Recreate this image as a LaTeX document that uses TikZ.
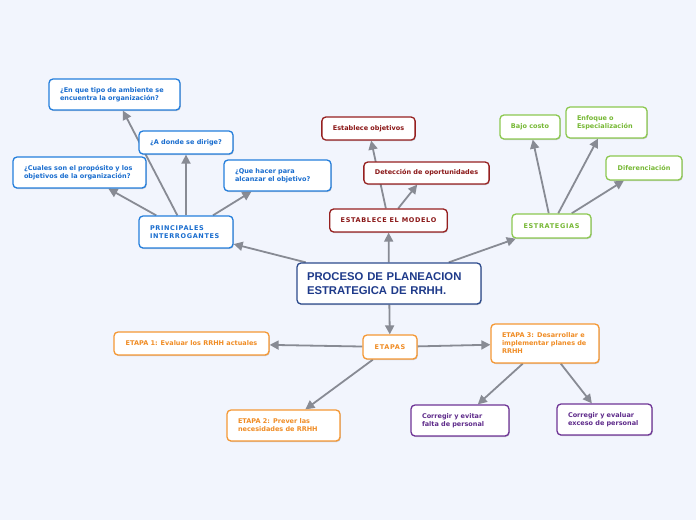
\documentclass[tikz,border=0pt]{standalone}
\usepackage{fontspec}
\setsansfont{DejaVu Sans}
\newfontfamily\titulofont{Liberation Sans}
\usepackage{tikz}
\usetikzlibrary{arrows.meta,shadows}
\definecolor{fondo}{RGB}{242,245,253}
\definecolor{gris}{RGB}{136,139,148}
\definecolor{azulc}{RGB}{36,126,220}
\definecolor{azult}{RGB}{24,108,206}
\definecolor{marino}{RGB}{44,74,140}
\definecolor{marinot}{RGB}{30,58,138}
\definecolor{rojo}{RGB}{150,32,32}
\definecolor{rojot}{RGB}{138,22,22}
\definecolor{verde}{RGB}{140,200,80}
\definecolor{verdet}{RGB}{118,184,52}
\definecolor{naranja}{RGB}{245,152,52}
\definecolor{naranjat}{RGB}{240,140,36}
\definecolor{morado}{RGB}{110,52,150}
\definecolor{moradot}{RGB}{94,42,138}
\pgfdeclarelayer{fondocapa}
\pgfdeclarelayer{lineas}
\pgfsetlayers{fondocapa,lineas,main}

\begin{document}
\begin{tikzpicture}[x=1pt,y=-1pt,
    caja/.style={draw,fill=white,rounded corners=4pt,line width=1.3pt,inner xsep=11pt,inner ysep=0pt,
                 font=\sffamily\bfseries\fontsize{6.5}{8}\selectfont,
                 drop shadow={shadow xshift=0.8pt,shadow yshift=-1pt,fill=black,opacity=0.18}},
    mayus/.style={font=\sffamily\bfseries\fontsize{6.5}{8}\selectfont\addfontfeatures{LetterSpace=10}},
    multi/.style={caja,align=left,text width=#1},
    azul/.style={draw=azulc,text=azult},
    rojo/.style={draw=rojo,text=rojot},
    verde/.style={draw=verde,text=verdet},
    naranja/.style={draw=naranja,text=naranjat},
    morado/.style={draw=morado,text=moradot},
    flecha/.style={-{Triangle[length=9pt,width=9pt]},line width=1.8pt,gris}]
  \begin{pgfonlayer}{fondocapa}
    \fill[fondo] (0,0) rectangle (696,520);
  \end{pgfonlayer}
  % tema central
  \node[caja,draw=marino,text=marinot,align=left,text width=164pt,inner xsep=10pt,minimum height=41pt,
        font=\titulofont\bfseries\fontsize{11.3}{14.5}\selectfont] (central) at (389,283.5)
       {PROCESO DE PLANEACION\\ESTRATEGICA DE RRHH.};
  % interrogantes
  \node[multi=72pt,azul,mayus,minimum height=32pt] (interrog) at (186,232) {PRINCIPALES\\INTERROGANTES};
  \node[multi=109pt,azul,minimum height=31pt] (ambiente) at (114.5,94.5) {¿En que tipo de ambiente se\\encuentra la organización?};
  \node[caja,azul,minimum width=94pt,minimum height=23pt] (dirige) at (186,142.5) {¿A donde se dirige?};
  \node[multi=111pt,azul,minimum height=31pt] (proposito) at (79.5,172.5) {¿Cuales son el propósito y los\\objetivos de la organización?};
  \node[multi=85pt,azul,minimum height=31pt] (quehacer) at (277.5,175.5) {¿Que hacer para\\alcanzar el objetivo?};
  % modelo
  \node[caja,rojo,mayus,minimum width=117pt,minimum height=23pt] (modelo) at (388.5,220.5) {ESTABLECE EL MODELO};
  \node[caja,rojo,minimum width=93pt,minimum height=23pt] (objetivos) at (368.5,128.5) {Establece objetivos};
  \node[caja,rojo,minimum width=125pt,minimum height=22pt] (deteccion) at (426.5,173) {Detección de oportunidades};
  % estrategias
  \node[caja,verde,mayus,minimum width=79pt,minimum height=24pt] (estrategias) at (551.5,226) {ESTRATEGIAS};
  \node[caja,verde,minimum width=60pt,minimum height=24pt] (bajo) at (530,127) {Bajo costo};
  \node[multi=59pt,verde,minimum height=31pt] (enfoque) at (606.5,122.5) {Enfoque o\\Especialización};
  \node[caja,verde,minimum width=76pt,minimum height=24pt] (diferencia) at (644,168) {Diferenciación};
  % etapas
  \node[caja,naranja,mayus,minimum width=54pt,minimum height=24pt] (etapas) at (390,347) {ETAPAS};
  \node[caja,naranja,minimum width=155pt,minimum height=23pt] (etapa1) at (191.5,343.5) {ETAPA 1: Evaluar los RRHH actuales};
  \node[multi=91pt,naranja,minimum height=31pt] (etapa2) at (283.5,425.5) {ETAPA 2: Prever las\\necesidades de RRHH};
  \node[multi=86pt,naranja,minimum height=39pt] (etapa3) at (545,343.5) {ETAPA 3: Desarrollar e\\implementar planes de\\RRHH};
  \node[multi=76pt,morado,minimum height=31pt] (evitar) at (460,420.5) {Corregir y evitar\\falta de personal};
  \node[multi=73pt,morado,minimum height=31pt] (evaluar) at (604.5,419.5) {Corregir y evaluar\\exceso de personal};
  % conectores
  \begin{pgfonlayer}{lineas}
    \foreach \u/\v in {central/interrog,central/modelo,central/estrategias,central/etapas,
                       interrog/ambiente,interrog/dirige,interrog/proposito,interrog/quehacer,
                       modelo/objetivos,modelo/deteccion,
                       estrategias/bajo,estrategias/enfoque,estrategias/diferencia,
                       etapas/etapa1,etapas/etapa2,etapas/etapa3,etapa3/evitar,etapa3/evaluar}
      \draw[flecha] (\u) -- (\v);
  \end{pgfonlayer}
\end{tikzpicture}
\end{document}
